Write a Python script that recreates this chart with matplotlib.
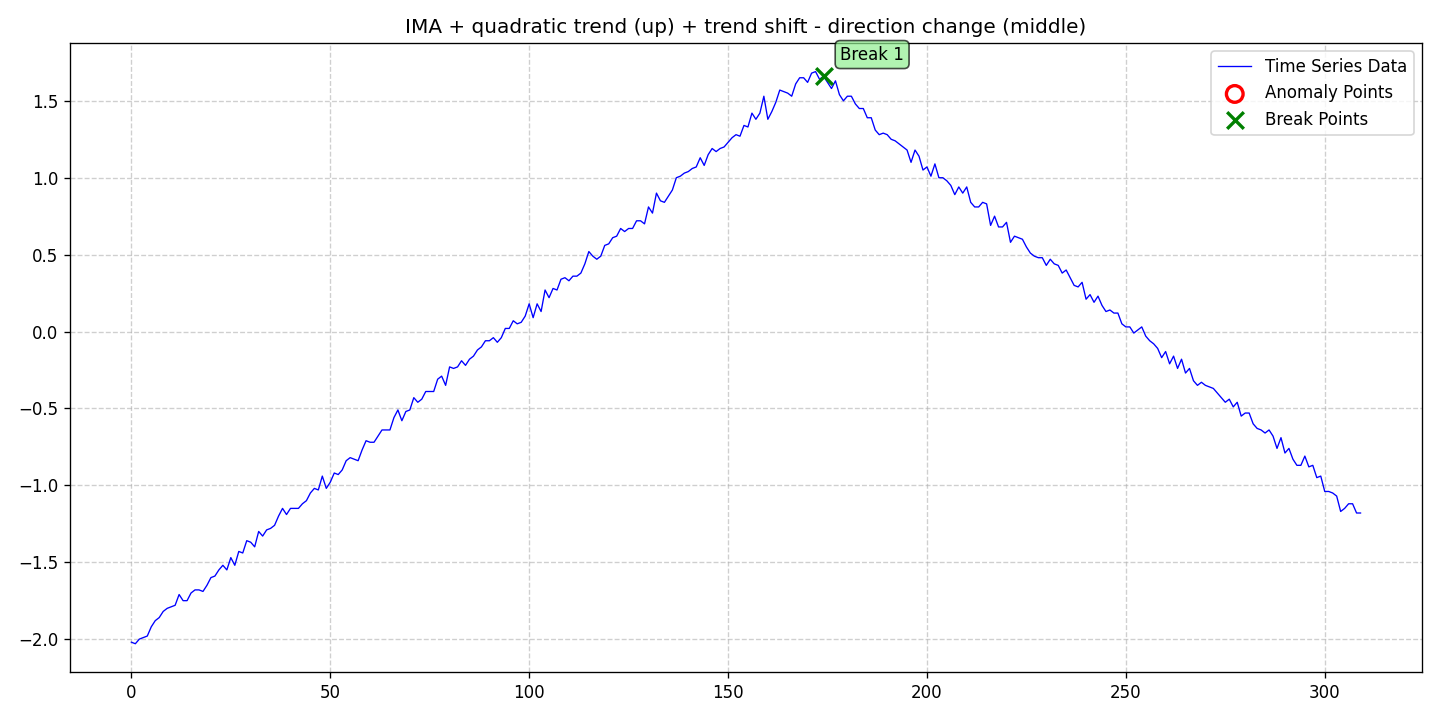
import numpy as np
import matplotlib
matplotlib.use("Agg")
import matplotlib.pyplot as plt

## Valores (índices 0..309)
series = [
    -2.02, -2.03, -2.00, -1.99, -1.98, -1.92, -1.88, -1.86, -1.82, -1.80,
    -1.79, -1.78, -1.71, -1.75, -1.75, -1.70, -1.68, -1.68, -1.69, -1.65,
    -1.60, -1.59, -1.55, -1.52, -1.55, -1.47, -1.52, -1.43, -1.44, -1.36,
    -1.37, -1.40, -1.30, -1.33, -1.29, -1.28, -1.26, -1.20, -1.15, -1.19,
    -1.15, -1.15, -1.15, -1.12, -1.10, -1.05, -1.02, -1.03, -0.94, -1.02,
    -0.98, -0.92, -0.93, -0.90, -0.84, -0.82, -0.83, -0.84, -0.77, -0.71,
    -0.72, -0.72, -0.68, -0.64, -0.64, -0.64, -0.56, -0.51, -0.58, -0.52,
    -0.51, -0.43, -0.46, -0.44, -0.39, -0.39, -0.39, -0.31, -0.29, -0.35,
    -0.23, -0.24, -0.23, -0.19, -0.22, -0.18, -0.16, -0.12, -0.10, -0.06,
    -0.06, -0.04, -0.07, -0.04, 0.02, 0.02, 0.07, 0.05, 0.06, 0.10,
    0.18, 0.09, 0.18, 0.13, 0.27, 0.22, 0.28, 0.27, 0.34, 0.35,
    0.33, 0.36, 0.36, 0.38, 0.44, 0.52, 0.49, 0.47, 0.49, 0.56,
    0.57, 0.61, 0.62, 0.67, 0.65, 0.67, 0.67, 0.72, 0.72, 0.70,
    0.81, 0.77, 0.90, 0.85, 0.84, 0.88, 0.92, 1.00, 1.01, 1.03,
    1.04, 1.06, 1.07, 1.13, 1.08, 1.15, 1.19, 1.17, 1.19, 1.20,
    1.23, 1.26, 1.28, 1.27, 1.34, 1.33, 1.42, 1.38, 1.42, 1.53,
    1.38, 1.43, 1.49, 1.57, 1.56, 1.55, 1.53, 1.61, 1.65, 1.65,
    1.62, 1.68, 1.69, 1.64, 1.66, 1.62, 1.58, 1.63, 1.54, 1.50,
    1.53, 1.53, 1.48, 1.45, 1.45, 1.39, 1.39, 1.31, 1.28, 1.29,
    1.28, 1.25, 1.24, 1.22, 1.20, 1.18, 1.10, 1.18, 1.14, 1.05,
    1.07, 1.01, 1.09, 1.00, 1.00, 0.98, 0.95, 0.89, 0.94, 0.90,
    0.94, 0.84, 0.81, 0.81, 0.84, 0.83, 0.69, 0.75, 0.68, 0.68,
    0.71, 0.58, 0.62, 0.61, 0.60, 0.55, 0.51, 0.49, 0.48, 0.48,
    0.43, 0.47, 0.44, 0.43, 0.38, 0.40, 0.35, 0.30, 0.29, 0.32,
    0.21, 0.24, 0.19, 0.23, 0.17, 0.13, 0.14, 0.12, 0.12, 0.05,
    0.03, 0.03, -0.01, 0.01, 0.03, -0.03, -0.06, -0.08, -0.11, -0.17,
    -0.13, -0.21, -0.16, -0.24, -0.18, -0.27, -0.24, -0.32, -0.35, -0.33,
    -0.35, -0.36, -0.37, -0.40, -0.43, -0.46, -0.44, -0.49, -0.46, -0.55,
    -0.53, -0.53, -0.60, -0.63, -0.64, -0.66, -0.64, -0.68, -0.76, -0.69,
    -0.79, -0.76, -0.83, -0.87, -0.87, -0.81, -0.88, -0.87, -0.95, -0.94,
    -1.04, -1.04, -1.05, -1.07, -1.17, -1.15, -1.12, -1.12, -1.18, -1.18,
]
anomaly_idx = []
break_idx = [174]
break_labels = ["Break 1"]
title = "IMA + quadratic trend (up) + trend shift - direction change (middle)"

def main():
    y = np.array(series)
    x = np.arange(len(y))

    fig, ax = plt.subplots(figsize=(12, 6), dpi=120)
    ax.plot(x, y, color="blue", linewidth=0.8, label="Time Series Data")

    ## Pontos de anomalia (nenhum neste caso)
    ax.scatter(x[anomaly_idx], y[anomaly_idx], s=100, facecolors="none",
               edgecolors="red", linewidths=2, label="Anomaly Points")

    ## Pontos de quebra
    ax.scatter(x[break_idx], y[break_idx], s=100, marker="x", color="green",
               linewidths=2, label="Break Points", zorder=5)
    for i, lab in zip(break_idx, break_labels):
        ax.annotate(lab, (x[i], y[i]), xytext=(10, 10), textcoords="offset points",
                    bbox=dict(boxstyle="round,pad=0.3", fc="lightgreen", alpha=0.7))

    ax.set_title(title)
    ax.grid(True, linestyle="--", alpha=0.6)
    ax.legend(loc="upper right")
    fig.tight_layout()
    fig.savefig("out.png")

if __name__ == "__main__":
    main()
